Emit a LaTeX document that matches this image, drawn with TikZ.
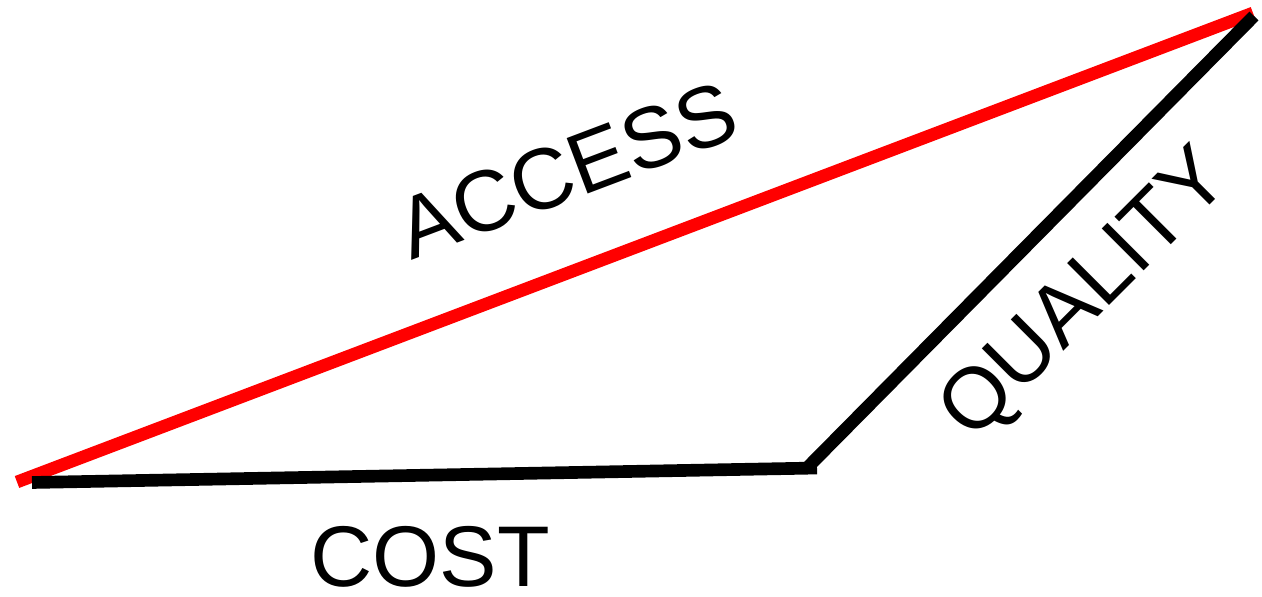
\documentclass[tikz,border=0pt]{standalone}
\usepackage{fontspec}
\setmainfont{Liberation Sans}

\begin{document}
\begin{tikzpicture}[x=0.01cm,y=-0.01cm]

	\useasboundingbox (0,0) rectangle (1262,597);

	% styles

	\tikzset{side/.style={line width=3.6pt}, word/.style={inner sep=0pt, font=\fontsize{24.5}{29}\selectfont}}

	% corners

	\coordinate (accessA) at (17,482);
	\coordinate (accessB) at (1253,13);
	\coordinate (costA) at (32,482.5);
	\coordinate (costB) at (817,468);
	\coordinate (qualA) at (808,467);
	\coordinate (qualB) at (1254,16);

	% sides

	\draw[side,color=red] (accessA) -- (accessB);
	\draw[side] (costA) -- (costB);
	\draw[side] (qualA) -- (qualB);

	% labels

	\node[word,rotate=20.7] (access) at (567,170) {ACCESS};
	\node[word] (cost) at (430,557) {COST};
	\node[word,rotate=45] (quality) at (1087,297) {QUALITY};

\end{tikzpicture}
\end{document}
